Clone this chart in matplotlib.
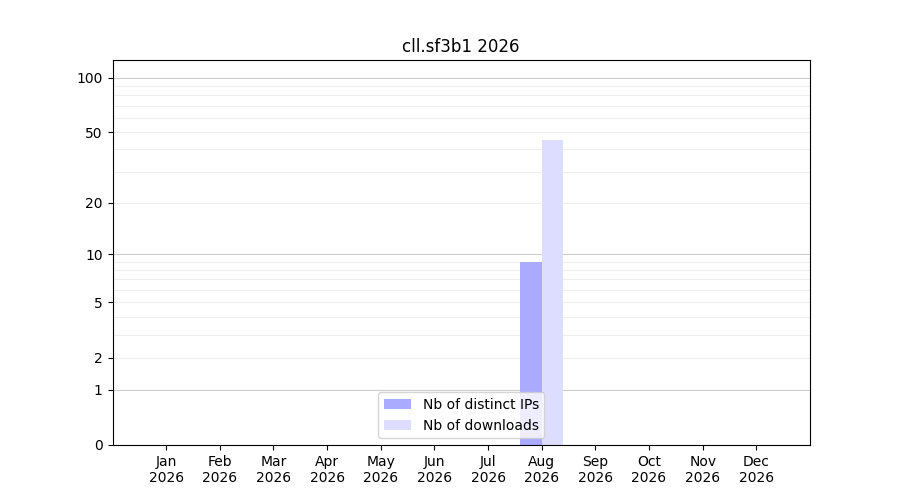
import numpy as np
import matplotlib
matplotlib.use("Agg")
import matplotlib.pyplot as plt

months = ["Jan", "Feb", "Mar", "Apr", "May", "Jun", "Jul", "Aug", "Sep", "Oct", "Nov", "Dec"]
year = "2026"
distinct_ips = [0, 0, 0, 0, 0, 0, 0, 9, 0, 0, 0, 0]
downloads = [0, 0, 0, 0, 0, 0, 0, 45, 0, 0, 0, 0]
ytick_values = [0, 1, 2, 5, 10, 20, 50, 100]

def fwd(y):
    return np.log10(1 + np.clip(y, 0, None))

def inv(y):
    return 10 ** y - 1

fig, ax = plt.subplots(figsize=(9, 5), dpi=100)
x = np.arange(len(months))
w = 0.4
ax.bar(x - w / 2, distinct_ips, width=w, color="#aaaaff", label="Nb of distinct IPs", zorder=2)
ax.bar(x + w / 2, downloads, width=w, color="#ddddff", label="Nb of downloads", zorder=2)

ax.set_yscale("function", functions=(fwd, inv))
ax.set_ylim(0, 125)
ax.set_xlim(-1, 12)

for d in [1, 10, 100]:
    ax.axhline(d, color="#cccccc", lw=0.8, zorder=1)
for dec in [1, 10]:
    for m in range(2, 10):
        ax.axhline(m * dec, color="#eeeeee", lw=0.8, zorder=1)

ax.set_yticks(ytick_values)
ax.set_yticklabels([str(v) for v in ytick_values])
ax.yaxis.set_minor_locator(matplotlib.ticker.NullLocator())
ax.set_xticks(x)
ax.set_xticklabels([f"{m}\n{year}" for m in months])
ax.set_title("cll.sf3b1 2026")
ax.legend(loc="lower center")

fig.savefig("out.png", dpi=100)
